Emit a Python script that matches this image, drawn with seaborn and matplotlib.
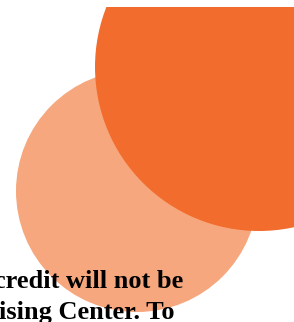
import matplotlib
matplotlib.use("Agg")
import matplotlib.pyplot as plt
from matplotlib.patches import Circle
import seaborn as sns

# circles, in picture pixel units (y grows downward)
circle_x = [137, 259]
circle_y = [191, 67]
circle_r = [121, 164]
circle_colors = ["#F7A77D", "#F26C2D"]

# text lines (cut off at the edges in the original)
text_lines = ["credit will not be", "ising Center. To"]
text_x = [-6, -1]
text_y = [288, 319]

sns.set_theme(style="white")

fig = plt.figure(figsize=(2.94, 3.22), dpi=100)
ax = fig.add_axes([0, 0, 1, 315 / 322])
ax.set_xlim(0, 294)
ax.set_ylim(322, 7)
ax.axis("off")

for x, y, r, c in zip(circle_x, circle_y, circle_r, circle_colors):
    ax.add_patch(Circle((x, y), r, facecolor=c, edgecolor="none", zorder=1))

for s, x, y in zip(text_lines, text_x, text_y):
    ax.text(x, y, s, family=["Liberation Serif", "DejaVu Serif"], fontweight="bold",
            fontsize=19, color="black", va="baseline", ha="left", zorder=3,
            clip_on=False)

fig.savefig("out.png", dpi=100)
